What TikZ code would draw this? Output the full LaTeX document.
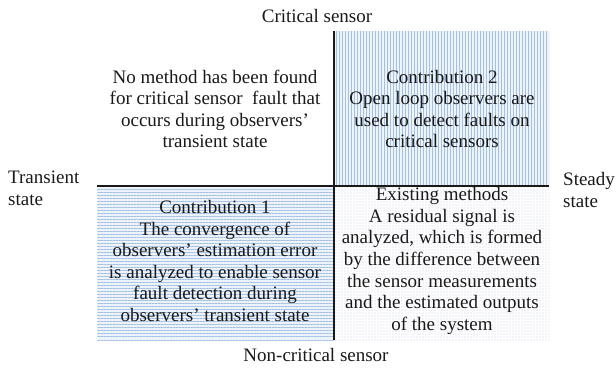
\documentclass[tikz,border=0pt]{standalone}
\usepackage{fontspec}
\setmainfont{Liberation Serif}
\usetikzlibrary{patterns.meta}

\definecolor{stripeblue}{RGB}{165,192,224}
\definecolor{paleblue}{RGB}{236,243,250}
\definecolor{dotgrey}{RGB}{200,208,222}
\definecolor{inkgrey}{RGB}{25,25,25}

\tikzset{
  celltext/.style={align=center,text=inkgrey,font=\fontsize{19}{21.6}\selectfont,inner sep=0},
  sidetext/.style={align=left,text=inkgrey,font=\fontsize{19}{21.6}\selectfont,inner sep=0},
  axisline/.style={inkgrey,line width=1.5pt}
}

\begin{document}
\begin{tikzpicture}[x=1pt,y=-1pt]

\useasboundingbox (0,0) rectangle (616,367);

\coordinate (top) at (334,31);
\coordinate (bottom) at (334,340);
\coordinate (left) at (97,186);
\coordinate (right) at (549,186);

\fill [paleblue] (334,31) rectangle (549,186);
\fill [pattern={Lines[angle=90,distance=3pt,line width=1pt]},pattern color=stripeblue] (334,31) rectangle (549,186);

\fill [paleblue] (97,186) rectangle (334,340);
\fill [pattern={Lines[angle=0,distance=3pt,line width=1pt]},pattern color=stripeblue] (97,186) rectangle (334,340);

\fill [pattern={Dots[distance=3pt,radius=0.6pt]},pattern color=dotgrey] (334,186) rectangle (549,340);

\draw [axisline] (left) -- (right);
\draw [axisline] (top) -- (bottom);

\node [celltext] (critical) at (317,16) {Critical sensor};
\node [celltext] (noncritical) at (316,355) {Non-critical sensor};
\node [sidetext,anchor=west] (transient) at (8,188) {Transient\\state};
\node [sidetext,anchor=west] (steady) at (563,190) {Steady\\state};

\node [celltext] (nomethod) at (215,109) {No method has been found\\for critical sensor\ \ fault that\\occurs during observers'\\transient state};
\node [celltext] (contrib2) at (442,109) {Contribution 2\\Open loop observers are\\used to detect faults on\\critical sensors};
\node [celltext] (contrib1) at (215,261) {Contribution 1\\The convergence of\\observers' estimation error\\is analyzed to enable sensor\\fault detection during\\observers' transient state};
\node [celltext] (existing) at (442,261) {Existing methods\\A residual signal is\\analyzed, which is formed\\by the difference between\\the sensor measurements\\and the estimated outputs\\of the system};

\end{tikzpicture}
\end{document}
